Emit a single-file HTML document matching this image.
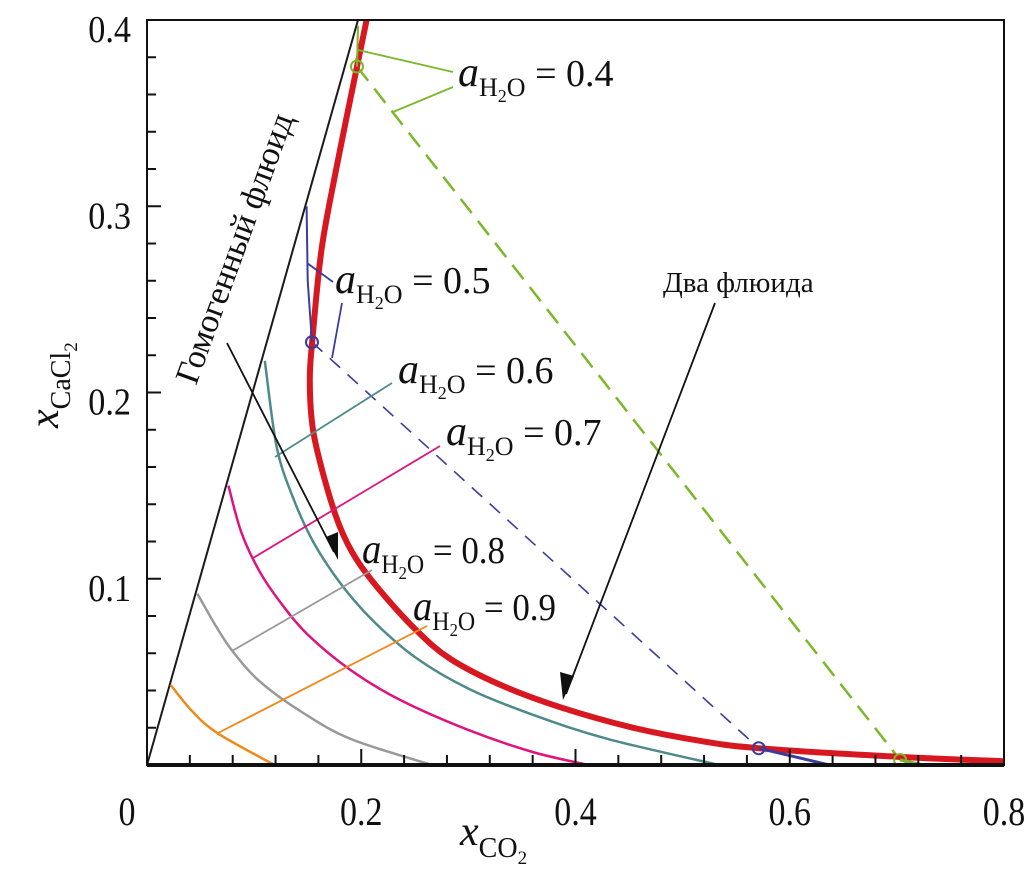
<!DOCTYPE html>
<html><head><meta charset="utf-8"><style>
html,body{margin:0;padding:0;background:#fff}
svg{display:block;font-family:"Liberation Serif","DejaVu Serif",serif}
</style></head><body>
<svg id="chart" width="1030" height="882" viewBox="0 0 1030 882" xmlns="http://www.w3.org/2000/svg">
<g id="marks"></g>
<g id="axes"></g>
</svg>
<script>
// ---- data ----
const xTicks = [0, 0.2, 0.4, 0.6, 0.8];
const xTickLabels = ["0", "0.2", "0.4", "0.6", "0.8"];
const yTicks = [0.1, 0.2, 0.3, 0.4];
const yTickLabels = ["0.1", "0.2", "0.3", "0.4"];
const redX = [0.205,0.196,0.177,0.163,0.155,0.152,0.155,0.166,0.180,0.196,0.220,0.252,0.283,0.330,0.386,0.454,0.516,0.571,0.698,0.800];
const redY = [0.400,0.375,0.321,0.277,0.232,0.207,0.180,0.153,0.128,0.110,0.092,0.072,0.057,0.043,0.031,0.020,0.013,0.009,0.0045,0.002];
const tealX = [0.110,0.121,0.136,0.155,0.180,0.210,0.250,0.300,0.360,0.430,0.534];
const tealY = [0.217,0.171,0.144,0.120,0.098,0.078,0.058,0.041,0.027,0.014,0.000];
const magX = [0.076,0.088,0.105,0.125,0.150,0.190,0.236,0.299,0.360,0.412];
const magY = [0.150,0.125,0.104,0.087,0.070,0.051,0.035,0.019,0.007,0.000];
const grayX = [0.047,0.065,0.080,0.105,0.143,0.190,0.266];
const grayY = [0.092,0.074,0.061,0.045,0.029,0.014,0.000];
const orangeX = [0.022,0.042,0.066,0.119];
const orangeY = [0.043,0.029,0.017,0.000];
const homX = [0, 0.197];
const homY = [0, 0.400];
const blueTopX = [0.149,0.150,0.154];
const blueTopY = [0.300,0.260,0.227];
const blueTieX = [0.154,0.571];
const blueTieY = [0.227,0.009];
const blueBotX = [0.571,0.637];
const blueBotY = [0.009,0.000];
const greenTopX = [0.197,0.196];
const greenTopY = [0.397,0.375];
const greenTieX = [0.196,0.703];
const greenTieY = [0.375,0.0027];
const greenBotX = [0.703,0.725];
const greenBotY = [0.0027,0.000];

const X0=147, X1=1004, Y0=765, Y1=20;
function X(v){return X0+v*(X1-X0)/0.8;}
function Y(v){return Y0-v*(Y0-Y1)/0.4;}
const NS="http://www.w3.org/2000/svg";
function mk(tag, attrs, parent){const e=document.createElementNS(NS,tag);for(const k in attrs)e.setAttribute(k,attrs[k]);parent.appendChild(e);return e;}
const marks=document.getElementById('marks'), axes=document.getElementById('axes');
function line(xs,ys,color,w,name,dash,smooth){
  const P=xs.map((x,i)=>[X(x),Y(ys[i])]);
  let d='M'+P[0][0].toFixed(1)+','+P[0][1].toFixed(1);
  for(let i=0;i<P.length-1;i++){
    if(smooth && P.length>2){
      const p0=P[Math.max(0,i-1)],p1=P[i],p2=P[i+1],p3=P[Math.min(P.length-1,i+2)];
      const c1=[p1[0]+(p2[0]-p0[0])/6,p1[1]+(p2[1]-p0[1])/6];
      const c2=[p2[0]-(p3[0]-p1[0])/6,p2[1]-(p3[1]-p1[1])/6];
      d+='C'+c1[0].toFixed(1)+','+c1[1].toFixed(1)+' '+c2[0].toFixed(1)+','+c2[1].toFixed(1)+' '+p2[0].toFixed(1)+','+p2[1].toFixed(1);
    } else d+='L'+P[i+1][0].toFixed(1)+','+P[i+1][1].toFixed(1);
  }
  const p=mk('path',{d:d,fill:'none',stroke:color,'stroke-width':w,'stroke-linejoin':'round','stroke-linecap':'butt'},marks);
  if(dash)p.setAttribute('stroke-dasharray',dash);
  
  
  return p;
}
function circ(x,y,color,name){
  const c=mk('circle',{cx:X(x),cy:Y(y),r:6,fill:'none',stroke:color,'stroke-width':2},marks);
  
  
}
line(homX,homY,'#1a1a1a',2,'homogeneous-boundary-line');
line(orangeX,orangeY,'#ee8a1a',2.5,'isoline-0.9',null,true);
line(grayX,grayY,'#999',2.5,'isoline-0.8',null,true);
line(magX,magY,'#e0137e',2.5,'isoline-0.7',null,true);
line(tealX,tealY,'#4f8a8b',2.5,'isoline-0.6',null,true);
line(blueTieX,blueTieY,'#3c3c9c',1.6,'tie-line-0.5','14,10');
line(greenTieX,greenTieY,'#7ab82a',2.5,'tie-line-0.4','18,10');
line(redX,redY,'#d81820',6,'binodal-curve',null,true);
line(blueTopX,blueTopY,'#3c3c9c',2,'isoline-0.5-top');
line(blueBotX,blueBotY,'#3c3c9c',3,'isoline-0.5-bottom');
line(greenTopX,greenTopY,'#7ab82a',2,'isoline-0.4-top');
line(greenBotX,greenBotY,'#7ab82a',3,'isoline-0.4-bottom');
circ(blueTieX[0],blueTieY[0],'#3c3c9c','tie-point-0.5-left');
circ(blueTieX[1],blueTieY[1],'#3c3c9c','tie-point-0.5-right');
circ(greenTieX[0],greenTieY[0],'#7ab82a','tie-point-0.4-left');
circ(greenTieX[1],greenTieY[1],'#7ab82a','tie-point-0.4-right');

const fr=mk('rect',{x:X0,y:Y1,width:X1-X0,height:Y0-Y1,fill:'none',stroke:'#111','stroke-width':2},axes);


const bx=mk('line',{x1:X0,y1:Y0,x2:X1,y2:Y0,stroke:'#111','stroke-width':4},axes);


for(let v=0.04;v<0.8;v+=0.04){
  const major=Math.abs(v/0.2-Math.round(v/0.2))<0.01;
  const t=mk('line',{x1:X(v),y1:Y0,x2:X(v),y2:Y0-(major?16:10),stroke:'#111','stroke-width':2},axes);
  
  
}
for(let v=0.02;v<0.4;v+=0.02){
  const major=Math.abs(v/0.1-Math.round(v/0.1))<0.01;
  const t=mk('line',{x1:X0,y1:Y(v),x2:X0+(major?14:9),y2:Y(v),stroke:'#111','stroke-width':2},axes);
  
  
}
xTicks.forEach((v,i)=>{
  const cx=X(v)-(i==0?20:0);
  const t=mk('text',{x:0,y:0,'font-size':40,'text-anchor':'middle',fill:'#111',transform:'translate('+cx+',825) scale(0.85,1)'},axes);
  t.textContent=xTickLabels[i];
  
  
});
yTicks.forEach((v,i)=>{
  const t=mk('text',{x:0,y:0,'font-size':38,'text-anchor':'end',fill:'#111',transform:'translate(131,'+(Y(v)+22)+') scale(0.9,1)'},axes);
  t.textContent=yTickLabels[i];
  
  
});
</script>
<svg style="position:absolute;left:0;top:0" width="1030" height="882" xmlns="http://www.w3.org/2000/svg">
<g font-family="Liberation Serif, serif" fill="#111">
 <text x="460" y="845" font-size="42" font-style="italic">x<tspan font-size="28" font-style="normal" dy="12">CO</tspan><tspan font-size="19" font-style="normal" dy="7">2</tspan></text>
 <text transform="translate(58,428) rotate(-90)" font-size="42" font-style="italic">x<tspan font-size="28" font-style="normal" dy="12">CaCl</tspan><tspan font-size="19" font-style="normal" dy="7">2</tspan></text>

 <g stroke-width="1.8" fill="none">
  <path d="M358,50 L453,72 M393,112 L453,87" stroke="#7ab82a"/>
  <path d="M307,263 L333,282 M342,303 L332,358" stroke="#3c3c9c"/>
  <path d="M275,457 L392,383" stroke="#4f8a8b"/>
  <path d="M253,558 L440,446" stroke="#e0137e"/>
  <path d="M232,651 L372,570" stroke="#999"/>
  <path d="M218,733 L427,626" stroke="#ee8a1a"/>
  <path d="M227,343 L334,552" stroke="#111"/>
  <path d="M715,303 L566,694" stroke="#111"/>
 </g>
 <polygon points="338,560 326,537 338,532" fill="#111"/>
 <polygon points="563,700 560,672 574,676" fill="#111"/>

 <g font-size="38">
  <text x="458" y="86"><tspan font-style="italic" font-size="42">a</tspan><tspan font-size="26" dy="10">H</tspan><tspan font-size="18" dy="6">2</tspan><tspan font-size="26" dy="-6">O</tspan><tspan dy="-10"> = 0.4</tspan></text>
  <text x="335" y="293"><tspan font-style="italic" font-size="42">a</tspan><tspan font-size="26" dy="10">H</tspan><tspan font-size="18" dy="6">2</tspan><tspan font-size="26" dy="-6">O</tspan><tspan dy="-10"> = 0.5</tspan></text>
  <text x="398" y="383"><tspan font-style="italic" font-size="42">a</tspan><tspan font-size="26" dy="10">H</tspan><tspan font-size="18" dy="6">2</tspan><tspan font-size="26" dy="-6">O</tspan><tspan dy="-10"> = 0.6</tspan></text>
  <text x="446" y="445"><tspan font-style="italic" font-size="42">a</tspan><tspan font-size="26" dy="10">H</tspan><tspan font-size="18" dy="6">2</tspan><tspan font-size="26" dy="-6">O</tspan><tspan dy="-10"> = 0.7</tspan></text>
  <text x="362" y="563" transform="translate(362,0) scale(0.92,1) translate(-362,0)"><tspan font-style="italic" font-size="42">a</tspan><tspan font-size="26" dy="10">H</tspan><tspan font-size="18" dy="6">2</tspan><tspan font-size="26" dy="-6">O</tspan><tspan dy="-10"> = 0.8</tspan></text>
  <text x="413" y="620" transform="translate(413,0) scale(0.92,1) translate(-413,0)"><tspan font-style="italic" font-size="42">a</tspan><tspan font-size="26" dy="10">H</tspan><tspan font-size="18" dy="6">2</tspan><tspan font-size="26" dy="-6">O</tspan><tspan dy="-10"> = 0.9</tspan></text>
 </g>
 <text x="663" y="292" font-size="29" font-family="Liberation Serif, Noto Serif CJK SC, serif">Два флюида</text>
 <text transform="translate(196,386) rotate(-70)" font-size="34" font-family="Liberation Serif, Noto Serif CJK SC, serif">Гомогенный флюид</text>
</g>
</svg>
</body></html>
